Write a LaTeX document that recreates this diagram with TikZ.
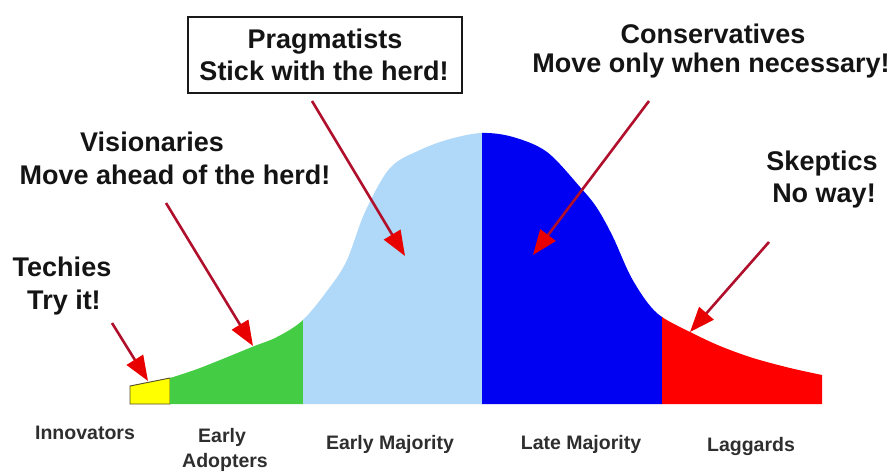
\documentclass[tikz,border=0pt]{standalone}
\usepackage{fontspec}
\setmainfont{Liberation Sans}
\usepackage{tikz}
\usetikzlibrary{arrows.meta}
\usepackage{xcolor}

\definecolor{innovcol}{HTML}{FFFF00}
\definecolor{earlycol}{HTML}{44CC44}
\definecolor{emajcol}{HTML}{B0D8F8}
\definecolor{lmajcol}{HTML}{0000F2}
\definecolor{laggcol}{HTML}{FF0000}
\definecolor{shaftcol}{HTML}{B0102C}
\definecolor{headcol}{HTML}{E80000}

% the upper edge of the adoption curve, from Early Adopters onward
\def\bellcurve{(170,404) -- plot[smooth, tension=0.55] coordinates {
    (170,378) (200,368) (252,347) (277,337) (303,320) (330,287) (347,260)
    (365,212) (390,168) (420,150) (450,139) (482,133) (513,137) (547,152)
    (580,187) (597,208) (613,237) (630,275) (647,302) (662,317) (690,332)
    (720,346) (753,358) (790,368) (822,375)} -- (822,404) -- cycle}

\begin{document}
\begin{tikzpicture}[x=1pt, y=-1pt,
    say/.style={font=\bfseries\fontsize{27}{31}\selectfont, text=black!92, inner sep=0pt, anchor=base},
    phase/.style={font=\bfseries\fontsize{19.5}{23}\selectfont, text=black!82, inner sep=0pt, anchor=base},
    pointer/.style={draw=shaftcol, line width=2.6pt, -{Triangle[length=25pt, width=19pt, color=headcol]}}]

    \useasboundingbox (0,0) rectangle (893,473);

    % ==================== ADOPTION CURVE ====================
    % Innovators slice, outlined
    \filldraw[fill=innovcol, draw=black!55!olive, line width=0.9pt] (130,404) -- (130,386) -- (170,378) -- (170,404) -- cycle;

    % remaining slices, cut out of the same curve
    \foreach \xa/\xb/\col in {170/303.5/earlycol, 303/482.5/emajcol, 482/662.5/lmajcol, 662/822/laggcol} {
        \begin{scope}
            \clip (\xa,0) rectangle (\xb,473);
            \fill[\col] \bellcurve;
        \end{scope}
    }

    % ==================== CALLOUTS ====================
    % Pragmatists, boxed
    \node[draw=black!90, line width=2.8pt, minimum width=274pt, minimum height=76pt, inner sep=0pt] (pragbox) at (325,55) {};
    \node[say] (prag1) at (325,49) {Pragmatists};
    \node[say] (prag2) at (324,81) {Stick with the herd!};

    % Conservatives
    \node[say] (cons1) at (713,44) {Conservatives};
    \node[say] (cons2) at (711,73) {Move only when necessary!};

    % Visionaries
    \node[say] (vis1) at (152,152) {Visionaries};
    \node[say] (vis2) at (175,184) {Move ahead of the herd!};

    % Skeptics
    \node[say] (skep1) at (822,171) {Skeptics};
    \node[say] (skep2) at (824,202) {No way!};

    % Techies
    \node[say] (tech1) at (62,276) {Techies};
    \node[say] (tech2) at (64,309) {Try it!};

    % ==================== ARROWS ====================
    \coordinate (techtail) at (112,323);
    \coordinate (techtip)  at (148,381);
    \coordinate (vistail)  at (166,203);
    \coordinate (vistip)   at (253,346);
    \coordinate (pragtail) at (312,101);
    \coordinate (pragtip)  at (405,256);
    \coordinate (constail) at (649,101);
    \coordinate (constip)  at (533,255);
    \coordinate (skeptail) at (769,242);
    \coordinate (skeptip)  at (690,332);

    % 1. Techies -> Innovators
    \draw[pointer] (techtail) -- (techtip);
    % 2. Visionaries -> Early Adopters
    \draw[pointer] (vistail) -- (vistip);
    % 3. Pragmatists -> Early Majority
    \draw[pointer] (pragtail) -- (pragtip);
    % 4. Conservatives -> Late Majority
    \draw[pointer] (constail) -- (constip);
    % 5. Skeptics -> Laggards
    \draw[pointer] (skeptail) -- (skeptip);

    % ==================== SEGMENT NAMES ====================
    \node[phase] (innov) at (85,439) {Innovators};
    \node[phase] (early1) at (222,442) {Early};
    \node[phase] (early2) at (225,467) {Adopters};
    \node[phase] (emaj) at (390,449) {Early Majority};
    \node[phase] (lmaj) at (581,449) {Late Majority};
    \node[phase] (lagg) at (751,451) {Laggards};

\end{tikzpicture}
\end{document}
